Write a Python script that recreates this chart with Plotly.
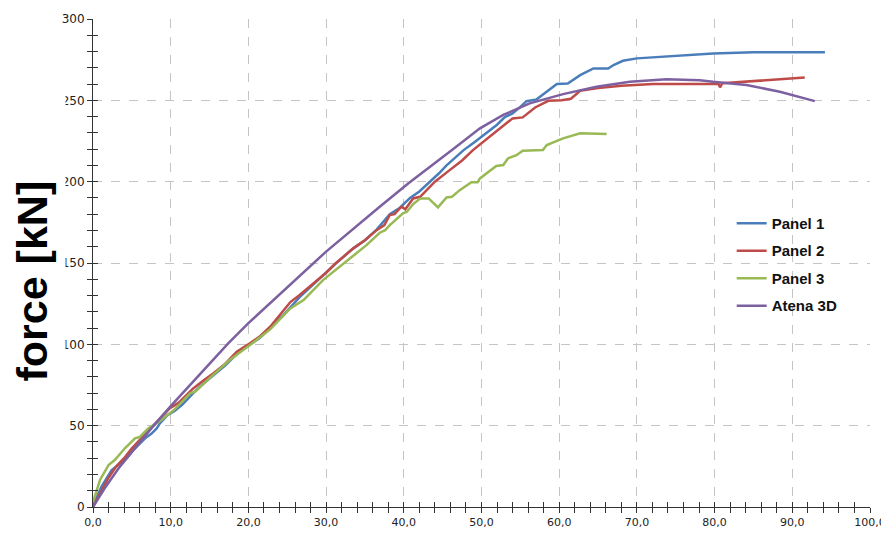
import plotly.graph_objects as go

# ---------------- data ----------------
p1_x = [0, 0.2, 1.1, 2.4, 3.5, 4.3, 5.0, 5.8, 6.7, 7.5, 8.2, 8.6, 9.6, 10.5, 11.5, 12.9, 14.0, 15.5,
        17.0, 18.5, 20.2, 21.5, 22.8, 24.5, 26.6, 28.8, 31.2, 33.5, 35.0, 36.5, 38.2, 39.5, 40.8, 42.0,
        43.4, 44.5, 45.5, 46.5, 47.7, 49.0, 49.8, 51.1, 52.0, 53.0, 54.0, 55.0, 55.8, 57.1, 58.4, 59.7,
        61.1, 62.7, 64.4, 66.3, 67.0, 68.2, 70.0, 75.0, 79.8, 85.0, 94.2]
p1_y = [0, 3, 12.5, 22.7, 26.8, 29.9, 34, 38.1, 42.2, 45, 48.3, 51.4, 56.5, 59, 63, 70, 75, 81,
        87, 94, 100, 104, 110, 118, 129, 139, 149.5, 159, 164, 170.5, 180, 184, 190, 194,
        200, 205, 210, 214, 219.4, 224, 227, 231.7, 235, 239.7, 242, 246, 249.5, 250.6, 255.3, 260,
        260.4, 265.5, 269.6, 269.6, 271.7, 274.3, 275.8, 277.3, 278.8, 279.5, 279.5]

p2_x = [0, 1.0, 2.0, 3.0, 4.0, 5.0, 6.0, 7.0, 8.0, 9.0, 9.9, 11.0, 12.0, 12.9, 14.0, 15.5, 17.0,
        18.5, 20.2, 21.5, 22.8, 24.0, 25.4, 26.6, 28.8, 30.0, 31.2, 33.5, 35.0, 36.5, 37.5, 38.2, 38.8,
        39.7, 40.2, 41.2, 42.1, 43.4, 44.0, 45.9, 47.5, 48.9, 49.8, 51.5, 52.4, 54.0, 55.3, 56.9, 58.6,
        60.3, 61.5, 62.0, 62.7, 65.0, 68.0, 72.1, 80.5, 80.7, 81.0, 91.6]
p2_y = [0, 9, 18, 25, 30, 36, 41, 46, 51, 56, 60.8, 64, 69, 72.9, 77, 82.2, 88,
        95.5, 100.6, 105, 110.8, 118, 126, 130.3, 139.5, 144, 149.7, 159, 164, 170.2, 173.3, 179.5, 180,
        184.6, 183, 189.7, 190.7, 196.9, 200, 207.1, 213, 219.4, 223, 229.7, 232.8, 238.9, 239.5, 245.6, 249.7,
        250, 251, 253, 255.9, 257.5, 259, 260, 260, 258, 260.5, 264]

p3_x = [0, 0.9, 2.0, 2.8, 4.1, 5.4, 6.0, 7.1, 8.8, 9.6, 10.5, 12.5, 13.2, 15.1, 17.6, 20.2, 22.8,
        25.4, 27.1, 29.6, 32.2, 35.2, 36.9, 37.6, 38.2, 39.9, 40.4, 41.2, 42.1, 43.2, 44.4, 45.5, 46.2,
        47.2, 48.7, 49.5, 49.8, 50.7, 51.9, 52.8, 53.4, 54.5, 55.3, 57.9, 58.4, 60.5, 62.7, 66.1]
p3_y = [3, 16.6, 25.8, 28.9, 36.1, 42.2, 43, 48.2, 53.5, 56.5, 60, 69.9, 71, 79.7, 90.4, 99.6, 109.2,
        122.1, 127.2, 139.5, 149.7, 161, 168.6, 170.2, 173.3, 180.5, 181.5, 186.2, 189.7, 189.7, 184.2, 190.3, 190.7,
        194.8, 199.6, 199.6, 202, 205.5, 209.6, 210.2, 214.3, 216.3, 219, 219.4, 222.5, 226.6, 229.7, 229.3]

at_x = [0, 1.5, 3.3, 5.4, 7.5, 10.0, 12.5, 15.0, 17.4, 20.0, 22.5, 25.0, 30.0, 36.9, 40.6, 46.2, 49.8,
        52.8, 56.2, 60.5, 64.8, 69.1, 73.8, 78.1, 79.8, 84.1, 88.4, 92.9]
at_y = [0, 11.5, 23.8, 36.1, 48.3, 62, 75, 88.5, 100.6, 113, 124, 135, 157, 184.6, 199, 219.4, 232.8,
        241, 248.1, 253.8, 258.3, 261.4, 262.9, 262.4, 261.4, 259.4, 255.3, 249.5]

series = [
    ("Panel 1", p1_x, p1_y, "#4a7ebb"),
    ("Panel 2", p2_x, p2_y, "#be4b48"),
    ("Panel 3", p3_x, p3_y, "#98b954"),
    ("Atena 3D", at_x, at_y, "#7d60a0"),
]

x_range = [0, 100]
y_range = [0, 300]

fig = go.Figure()
for i, (name, xs, ys, col) in enumerate(series):
    fig.add_trace(go.Scatter(x=xs, y=ys, name=f"<b>{name}</b>", mode="lines",
                             line=dict(color=col, width=2.5),
                             legendgroup=f"g{i}"))

# dummy trace on overlay axes (for crossing ticks)
fig.add_trace(go.Scatter(x=[], y=[], xaxis="x2", yaxis="y2", showlegend=False, hoverinfo="skip"))

axis_col = "#333333"
grid_col = "#c4c4c4"

# page body has an 8px margin; figure sized so it fits the 889x535 window
fig.update_layout(
    width=881, height=527,
    margin=dict(l=85, r=19, t=11, b=28, autoexpand=False),
    plot_bgcolor="white", paper_bgcolor="white",
    separators=", ",
    showlegend=True,
    legend=dict(x=0.822, y=0.615, xanchor="left", yanchor="top",
                font=dict(family="Liberation Sans", size=15, color="#111111"),
                bgcolor="rgba(0,0,0,0)", tracegroupgap=5, itemwidth=30),
    xaxis=dict(range=x_range, dtick=10, tick0=0, tickformat=".1f", automargin=False,
               showgrid=True, gridcolor=grid_col, griddash="dash", gridwidth=1,
               showline=True, linecolor=axis_col, linewidth=1,
               ticks="outside", ticklen=5, tickcolor=axis_col,
               minor=dict(dtick=2, ticks="outside", ticklen=5, tickcolor=axis_col, showgrid=False),
               tickfont=dict(family="DejaVu Sans", size=11, color="#222222"),
               zeroline=False),
    yaxis=dict(range=y_range, dtick=50, tick0=0, automargin=False,
               showgrid=True, gridcolor=grid_col, griddash="dash", gridwidth=1,
               showline=True, linecolor=axis_col, linewidth=1,
               ticks="outside", ticklen=5, tickcolor=axis_col,
               minor=dict(dtick=10, ticks="outside", ticklen=5, tickcolor=axis_col, showgrid=False),
               tickfont=dict(family="DejaVu Sans", size=12, color="#222222"),
               zeroline=False),
    xaxis2=dict(range=x_range, overlaying="x", anchor="y2", side="bottom", automargin=False,
                showgrid=False, showline=False, zeroline=False, showticklabels=False,
                ticks="inside", ticklen=5, tickcolor=axis_col, dtick=2, tick0=0),
    yaxis2=dict(range=y_range, overlaying="y", anchor="x2", side="left", automargin=False,
                showgrid=False, showline=False, zeroline=False, showticklabels=False,
                ticks="inside", ticklen=5, tickcolor=axis_col, dtick=10, tick0=0),
)

# white box that partially hides tick labels behind title (as in reference)
fig.add_annotation(xref="paper", yref="paper", x=(36 - 93) / 777, y=(507 - 255) / 488,
                   text=" ", showarrow=False, bgcolor="white", borderpad=0,
                   width=58, height=320, xanchor="center", yanchor="middle")
fig.add_annotation(xref="paper", yref="paper", x=(31.5 - 93) / 777, y=(507 - 281) / 488,
                   text="<b>force [kN]</b>", textangle=-90, showarrow=False,
                   font=dict(family="Liberation Sans", size=43, color="#000000"),
                   xanchor="center", yanchor="middle")

fig.write_html("out.html")
